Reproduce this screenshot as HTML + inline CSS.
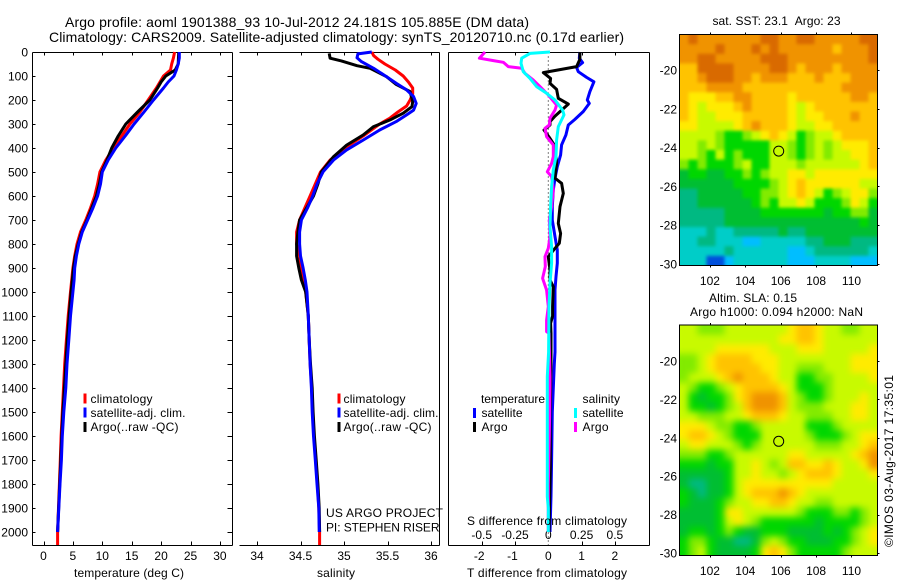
<!DOCTYPE html>
<html lang="en">
<head>
<meta charset="utf-8">
<title>Argo profile 1901388_93</title>
<style>
html,body{margin:0;padding:0;background:#fff;}
svg{display:block;}
text{font-family:"Liberation Sans",sans-serif;font-size:12px;fill:#000;}
</style>
</head>
<body>
<svg id="chart" xmlns="http://www.w3.org/2000/svg" width="900" height="580" viewBox="0 0 900 580">
  <defs>
    <filter id="soft-sst" x="-5%" y="-5%" width="110%" height="110%" color-interpolation-filters="sRGB">
      <feGaussianBlur stdDeviation="1.5"/>
      <feComponentTransfer><feFuncA type="linear" slope="6"/></feComponentTransfer>
    </filter>
    <filter id="soft-sla" x="-5%" y="-5%" width="110%" height="110%" color-interpolation-filters="sRGB">
      <feGaussianBlur stdDeviation="3.5"/>
      <feComponentTransfer><feFuncA type="linear" slope="6"/></feComponentTransfer>
    </filter>
    <clipPath id="clip-sst"><rect x="679.5" y="34.5" width="198" height="231"/></clipPath>
    <clipPath id="clip-sla"><rect x="679.5" y="325" width="198" height="230.5"/></clipPath>
  </defs>
  <rect x="0" y="0" width="900" height="580" fill="#fff"/>
  <g id="marks"></g>
  <text x="65" y="27" style="font-size:14px" textLength="464">Argo profile: aoml 1901388_93 10-Jul-2012 24.181S 105.885E (DM data)</text>
  <text x="49" y="42" style="font-size:14px" textLength="575">Climatology: CARS2009. Satellite-adjusted climatology: synTS_20120710.nc (0.17d earlier)</text>

  <text x="74" y="577" textLength="110">temperature (deg C)</text>
  <text x="317" y="577" textLength="38">salinity</text>
  <text x="467" y="577" textLength="160">T difference from climatology</text>
  <text x="467" y="525" textLength="160">S difference from climatology</text>

  <text x="90.5" y="403" textLength="62">climatology</text>
  <text x="90.5" y="417" textLength="95">satellite-adj. clim.</text>
  <text x="90.5" y="431" textLength="88">Argo(..raw -QC)</text>

  <text x="343.5" y="403" textLength="62">climatology</text>
  <text x="343.5" y="417" textLength="95">satellite-adj. clim.</text>
  <text x="343.5" y="431" textLength="88">Argo(..raw -QC)</text>

  <text x="326" y="517" textLength="117">US ARGO PROJECT</text>
  <text x="326" y="531.5" textLength="113.5">PI: STEPHEN RISER</text>

  <text x="481" y="403" textLength="64">temperature</text>
  <text x="481.5" y="417" textLength="41">satellite</text>
  <text x="481.5" y="431" textLength="26">Argo</text>
  <text x="582.5" y="403" textLength="37.500">salinity</text>
  <text x="582.5" y="417" textLength="41">satellite</text>
  <text x="582.5" y="431" textLength="26">Argo</text>

  <text x="712.500" y="25" textLength="128">sat. SST: 23.1&#160;&#160;Argo: 23</text>
  <text x="709" y="302" textLength="88">Altim. SLA: 0.15</text>
  <text x="690" y="316" textLength="173">Argo h1000: 0.094 h2000: NaN</text>
  <text transform="translate(893,547) rotate(-90)" x="0" y="0" textLength="172">©IMOS 03-Aug-2017 17:35:01</text>
</svg>
<script>
// ---- Temperature profile data (depth in dbar, value in deg C)
const tempClimDepth = [0,25,50,75,100,150,200,250,300,350,400,450,500,550,600,650,700,750,800,850,900,950,1000,1100,1200,1300,1400,1500,1600,1700,1800,1900,2000,2054];
const tempClimValue = [22.3,22.1,21.8,21.6,20.4,19.2,17.8,16.4,14.7,13.3,11.9,10.6,9.6,9.2,8.7,8.0,7.2,6.3,5.7,5.3,5.0,4.8,4.6,4.2,3.9,3.6,3.4,3.2,3.0,2.85,2.7,2.55,2.4,2.4];
const tempArgoDepth = [0,50,75,100,125,150,200,250,300,350,400,450,500,550,600,650,700,750,800,850,900,950,1000,1100,1200,1300,1400,1500,1600,1700,1800,2000];
const tempArgoValue = [23.0,22.9,22.4,20.8,20.0,19.4,18.1,16.0,14.0,12.7,11.6,10.8,9.9,9.5,9.0,8.2,7.4,6.5,5.9,5.4,5.1,4.9,4.7,4.35,4.05,3.8,3.55,3.3,3.1,2.95,2.75,2.4];
const tempSatDepth = [0,25,50,75,100,125,150,200,250,300,350,400,450,500,550,600,650,700,750,800,850,900,950,1000,1100,1200,1300,1400,1500,1600,1700,1800,1900,2000];
const tempSatValue = [23.1,23.1,22.9,22.6,22.2,21.2,20.4,18.7,17.1,15.4,13.9,12.3,11.0,10.0,9.7,9.2,8.4,7.5,6.6,6.0,5.6,5.3,5.2,5.0,4.6,4.3,4.0,3.8,3.45,3.2,3.05,2.8,2.6,2.4];

// ---- Salinity profile data
const salClimDepth = [0,15,30,50,75,100,125,150,175,200,225,250,275,300,350,400,450,500,550,600,650,700,750,800,850,900,950,1000,1100,1200,1300,1400,1500,1600,1700,1800,1900,2000,2054];
const salClimValue = [35.32,35.34,35.39,35.47,35.59,35.68,35.74,35.79,35.79,35.76,35.72,35.62,35.53,35.41,35.22,35.01,34.84,34.73,34.67,34.61,34.55,34.49,34.455,34.455,34.49,34.51,34.54,34.56,34.59,34.6,34.61,34.63,34.64,34.655,34.675,34.695,34.71,34.72,34.72];
const salArgoDepth = [6,26,37,57,68,103,135,165,207,228,255,283,311,346,388,436,499,550,600,650,700,750,800,850,900,950,1000,1100,1200,1300,1400,1500,1600,1700,1800,1900,2000];
const salArgoValue = [34.83,34.84,34.97,35.15,35.3,35.49,35.6,35.76,35.79,35.78,35.68,35.53,35.34,35.22,35.03,34.88,34.74,34.7,34.65,34.57,34.49,34.47,34.455,34.455,34.48,34.51,34.56,34.59,34.6,34.615,34.635,34.645,34.66,34.68,34.7,34.715,34.72];
const salSatDepth = [0,8,24,40,68,103,130,158,186,214,242,262,290,325,367,408,450,499,550,600,650,700,750,800,850,900,950,1000,1100,1200,1300,1400,1500,1600,1700,1800,1900,2000];
const salSatValue = [35.32,35.16,35.15,35.2,35.34,35.49,35.6,35.72,35.8,35.83,35.8,35.72,35.6,35.41,35.22,35.03,34.88,34.76,34.69,34.64,34.58,34.51,34.49,34.49,34.5,34.53,34.555,34.575,34.59,34.6,34.61,34.625,34.635,34.65,34.67,34.69,34.71,34.715];

// ---- Difference panel data
const diffTSatDepth = [0,26,44,64,82,106,124,165,200,214,248,281,304,346,387,429,478,526,575,644,700,769,825,880,936,991,1061,1250,1300,1400,1500,1700,1850,2000];
const diffTSatValue = [.95,.93,1.03,.85,.90,1.15,1.37,1.25,1.17,1.23,1.05,.80,.60,.53,.40,.37,.27,.20,.15,.12,.12,.20,.27,.27,.23,.20,.20,.2,.18,.15,.12,.1,.08,.05];
const diffTArgoDepth = [0,30,61,86,110,131,156,193,217,267,290,304,325,360,392,464,526,547,589,644,714,756,797,818,853,908,950,978,1061,1100,1130,1172,1310,1420,1520,1620,1730,2000];
const diffTArgoValue = [.95,.95,.85,-.15,.07,.05,.25,.3,.6,.2,.05,.05,-.13,.05,.2,.25,.2,.4,.45,.35,.3,.37,.33,.2,0,.05,.05,.15,.13,.13,.07,.08,.08,.07,.05,.06,.06,.02];
const diffSSatDepth = [0,6,26,47,82,110,144,172,200,242,262,311,367,436,492,561,644,728,811,880,964,1061,1250,1353,1853,1900,2000];
const diffSSatValue = [.0125,-.1375,-.2,-.205,-.1875,-.1375,-.0875,-.0125,.05,.1075,.1175,.075,.0625,.0575,.0375,.025,.0175,.0125,.025,.025,.0125,.005,.0025,-.0075,-.0075,0,0];
const diffSArgoDepth = [0,26,36,43,61,68,89,117,144,179,221,242,276,304,318,353,387,436,464,499,519,575,644,700,769,818,853,894,943,992,1061,1117,1165,1172,1353,1395,1600,1800,2000];
const diffSArgoValue = [-.475,-.5175,-.4125,-.3375,-.3,-.2,-.175,-.1125,-.0625,0,.0625,.05,.0125,.0075,-.025,-.0125,.0375,.0375,.025,-.0075,.025,.0375,.025,.0075,.0125,0,-.025,-.0225,-.0425,-.0125,0,-.0125,-.0125,.005,.0125,.0125,.0075,0,0];

// ---- Tick labels
const depthTicks = [0,100,200,300,400,500,600,700,800,900,1000,1100,1200,1300,1400,1500,1600,1700,1800,1900,2000];
const tempTicks = [0,5,10,15,20,25,30];
const salTicks = [34,34.5,35,35.5,36];
const diffTTicks = [-2,-1,0,1,2];
const diffTTopTicks = [-2,-1,1,2];
const diffSTicks = [-0.5,-0.25,0,0.25,0.5];
const lonTicks = [102,104,106,108,110];
const latTicks = [20,22,24,26,28,30];

// ---- Float position
const floatLon = 105.885;
const floatLat = 24.181;

// ---- Map colour levels (0 = deep blue ... 11 = dark orange)
const sstLevels = [
[10,11,10,10,10,10,10,10,10,11,11,10,10,11,11,10,10,10,10,10,11,11],
[10,10,10,10,11,10,10,10,11,10,11,10,10,10,10,10,10,9,10,10,10,11],
[10,10,11,11,10,10,10,10,10,11,11,11,10,10,10,10,10,10,10,10,10,11],
[9,9,11,11,11,11,10,10,10,10,11,11,10,9,10,10,10,9,10,10,10,10],
[9,9,10,11,11,11,10,10,9,10,10,10,9,9,9,10,9,9,9,10,10,10],
[9,9,9,10,10,10,10,9,9,9,9,9,9,9,9,9,9,9,10,10,10,10],
[9,8,8,8,9,9,10,10,9,9,9,9,8,9,9,9,9,9,9,10,10,9],
[9,8,7,8,8,8,9,10,9,9,9,9,8,7,8,9,9,9,9,9,9,9],
[9,8,7,7,8,8,8,9,9,9,9,9,8,7,8,8,9,9,9,10,9,9],
[8,8,7,7,7,7,8,9,10,9,9,9,8,7,7,8,8,9,9,9,9,9],
[7,7,7,7,6,5,5,6,7,8,9,8,7,5,6,7,7,8,9,9,9,9],
[7,7,6,7,6,5,5,5,5,5,7,7,6,5,6,7,6,7,8,8,8,9],
[7,7,6,5,7,5,6,5,5,5,7,7,6,5,6,7,6,7,7,8,8,9],
[6,5,6,5,5,5,6,7,5,5,7,7,7,6,7,7,7,7,7,7,8,9],
[4,5,5,4,4,5,5,6,5,6,7,7,8,8,7,8,8,8,8,8,8,8],
[4,4,4,4,4,4,5,5,5,5,6,7,8,9,8,8,8,8,8,8,7,7],
[3,3,4,4,4,4,4,5,5,6,6,7,8,9,8,7,5,6,7,8,8,6],
[3,3,4,4,4,4,4,4,5,6,5,7,7,8,7,5,5,5,6,8,7,5],
[3,3,3,3,3,4,4,4,4,5,5,5,5,5,5,5,4,5,5,6,6,4],
[3,3,3,3,3,4,4,4,4,4,4,4,4,4,4,4,4,4,4,4,5,4],
[2,2,2,3,2,2,3,3,3,3,3,4,3,3,4,4,4,4,4,4,4,4],
[2,2,3,3,2,2,2,1,1,2,2,2,2,2,3,3,4,4,4,3,3,3],
[2,2,2,2,2,3,2,2,2,2,2,2,1,1,2,3,3,3,3,3,3,2],
[2,2,2,0,0,1,2,2,2,2,2,2,1,1,1,2,2,2,2,1,1,1]
];
const slaLevels = [
[7,7,6,6,6,7,7,7,7,7,7,7,8,9,9,8,7,7,6,6,7,7],
[7,7,7,7,7,7,7,7,7,7,7,8,8,9,9,8,7,7,7,7,7,7],
[7,7,7,7,8,8,8,8,8,8,7,7,7,8,8,8,7,7,7,7,7,8],
[6,6,7,8,9,9,9,9,8,8,8,7,7,7,7,7,7,7,7,8,8,8],
[6,6,7,8,9,9,9,9,9,8,8,7,7,6,6,6,7,7,7,8,8,8],
[6,7,7,7,8,9,10,9,9,9,8,7,7,5,5,6,6,7,7,7,7,8],
[7,6,5,5,6,7,8,9,9,9,9,8,7,5,5,5,6,7,7,7,7,7],
[7,5,4,5,5,6,8,9,10,10,10,9,7,6,5,5,6,7,7,7,8,7],
[7,5,5,4,5,6,7,9,10,10,10,9,7,6,6,6,7,7,7,8,8,7],
[7,7,6,6,6,7,7,8,9,9,9,8,7,7,6,6,6,7,7,8,8,7],
[8,8,8,7,6,6,5,5,6,7,7,7,7,7,5,5,5,6,7,7,7,7],
[8,9,9,8,7,6,5,5,5,7,7,7,7,7,6,5,5,5,6,7,8,8],
[7,8,8,7,7,7,6,5,6,7,7,7,7,7,7,6,6,6,7,7,8,9],
[6,6,6,5,5,6,7,7,7,7,7,7,8,8,7,7,7,7,7,8,9,10],
[5,5,5,4,5,5,7,7,8,7,6,7,9,9,8,8,9,8,7,7,8,10],
[4,4,4,4,4,5,7,7,8,7,7,6,7,8,9,9,9,8,7,7,7,8],
[4,3,3,4,4,5,7,8,8,8,8,8,8,8,8,8,8,7,7,7,7,7],
[5,4,3,4,4,5,7,8,9,9,9,10,9,8,7,7,7,7,7,7,7,7],
[5,4,4,4,5,6,7,7,8,8,9,9,8,7,7,6,6,7,7,7,7,7],
[4,4,4,4,5,8,8,7,7,7,7,7,7,6,5,5,5,6,6,5,6,7],
[4,4,4,4,5,7,8,7,6,5,5,5,5,5,5,4,5,5,5,5,6,7],
[4,5,5,4,5,6,5,4,4,5,5,5,4,4,4,4,5,4,5,6,7,8],
[5,6,6,5,4,4,3,3,4,6,7,6,5,5,4,4,4,5,5,6,7,8],
[5,6,7,5,4,4,4,4,5,8,9,8,6,5,5,5,5,5,6,7,7,7]
];

// ---- Axis functions
const yDepth = d => 52 + d * 0.24;
const xTemp = t => 43.5 + t * 5.88;
const xSal = s => 257 + (s - 34) * 87;
const xDiffT = t => 548.3 + t * 33.3;
const xDiffS = s => 548.3 + s * 133.2;
const map1 = {left:679.5,right:877.5,top:34.5,bottom:265.5,lonMin:100.28,lonMax:111.47,latMin:18.16,latMax:30.09};
const map2 = {left:679.5,right:877.5,top:325,bottom:555.5,lonMin:100.28,lonMax:111.47,latMin:18.12,latMax:30.13};
const mapX = (m,lon) => m.left + (lon - m.lonMin) / (m.lonMax - m.lonMin) * (m.right - m.left);
const mapY = (m,lat) => m.top + (lat - m.latMin) / (m.latMax - m.latMin) * (m.bottom - m.top);
const levelColours = ['#0050dc','#00beff','#00cdc8','#00b982','#00be32','#00d700','#82eb00','#c8fa00','#ffeb00','#ffc300','#f09300','#d96a00'];

const SVGNS = 'http://www.w3.org/2000/svg';
const root = document.getElementById('marks');

function makeLine(x1,y1,x2,y2,name,parent){
  const el = document.createElementNS(SVGNS,'line');
  el.setAttribute('x1',x1);
  el.setAttribute('y1',y1);
  el.setAttribute('x2',x2);
  el.setAttribute('y2',y2);
  el.setAttribute('stroke','#000');
  el.setAttribute('stroke-width','1');
  el.setAttribute('shape-rendering','crispEdges');
  
  
  (parent || root).appendChild(el);
  return el;
}
function makeText(x,y,str,anchor,name){
  const el = document.createElementNS(SVGNS,'text');
  el.setAttribute('x',x);
  el.setAttribute('y',y);
  el.setAttribute('text-anchor',anchor);
  el.textContent = str;
  
  
  root.appendChild(el);
  return el;
}
function makeBar(x,y,colour,name){
  const el = document.createElementNS(SVGNS,'rect');
  el.setAttribute('x',x);
  el.setAttribute('y',y);
  el.setAttribute('width',3);
  el.setAttribute('height',10);
  el.setAttribute('fill',colour);
  
  
  root.appendChild(el);
}
function drawSeries(depths,values,xFn,colour,name,width){
  const el = document.createElementNS(SVGNS,'polyline');
  el.setAttribute('points',depths.map((d,i)=>xFn(values[i]).toFixed(1)+','+yDepth(d).toFixed(1)).join(' '));
  el.setAttribute('fill','none');
  el.setAttribute('stroke',colour);
  el.setAttribute('stroke-width',width || 3);
  el.setAttribute('stroke-linejoin','round');
  
  
  root.appendChild(el);
}

// ---- Profile panel frames
const P1 = {l:32.5,r:232.5}, P2 = {l:239.5,r:439.5}, P3 = {l:448.5,r:649.5};
const pTop = 52.5, pBottom = 545.5;

// panel 1
makeLine(P1.l,pTop,P1.r,pTop,'temperature-panel-top-axis');
makeLine(P1.l,pBottom,P1.r,pBottom,'temperature-panel-bottom-axis');
makeLine(P1.l,pTop,P1.l,pBottom,'depth-axis-line');
makeLine(P1.r,pTop,P1.r,pBottom,'temperature-panel-right-axis');
// panel 2 (no left edge)
makeLine(P2.l,pTop,P2.r,pTop,'salinity-panel-top-axis');
makeLine(P2.l,pBottom,P2.r,pBottom,'salinity-panel-bottom-axis');
makeLine(P2.r,pTop,P2.r,pBottom,'salinity-panel-right-axis');
// panel 3
makeLine(P3.l,pTop,P3.r,pTop,'difference-panel-top-axis');
makeLine(P3.l,pBottom,P3.r,pBottom,'difference-panel-bottom-axis');
makeLine(P3.l,pTop,P3.l,pBottom,'difference-panel-left-axis');
makeLine(P3.r,pTop,P3.r,pBottom,'difference-panel-right-axis');

// depth ticks and labels
depthTicks.forEach(d=>{
  const y = Math.round(yDepth(d)) + 0.5;
  makeLine(P1.l,y,P1.l+3,y,'depth-tick-left');
  makeLine(P1.r-5,y,P1.r,y,'depth-tick-right');
  makeText(28,yDepth(d)+4.5,String(d),'end','depth-tick-label');
});
// temperature ticks
tempTicks.forEach(t=>{
  const x = Math.round(xTemp(t)) + 0.5;
  makeLine(x,pTop,x,pTop+3,'temperature-tick-top');
  makeLine(x,pBottom-4,x,pBottom,'temperature-tick-bottom');
  makeText(xTemp(t),560,String(t),'middle','temperature-tick-label');
});
// salinity ticks
salTicks.forEach(s=>{
  const x = Math.round(xSal(s)) + 0.5;
  makeLine(x,pTop,x,pTop+3,'salinity-tick-top');
  makeLine(x,pBottom-4,x,pBottom,'salinity-tick-bottom');
  makeText(xSal(s),560,String(s),'middle','salinity-tick-label');
});
// difference ticks
diffTTopTicks.forEach(t=>{
  const x = Math.round(xDiffT(t)) + 0.5;
  makeLine(x,pTop,x,pTop+3,'t-difference-tick-top');
  makeLine(x,pBottom-4,x,pBottom,'t-difference-tick-bottom');
});
diffTTicks.forEach(t=>{
  makeText(xDiffT(t)-(t<0?2.5:0),560,String(t),'middle','t-difference-tick-label');
});
diffSTicks.forEach(s=>{
  makeText(xDiffS(s),539,String(s),'middle','s-difference-tick-label');
});

// zero reference line
const zeroLine = makeLine(xDiffT(0),pTop,xDiffT(0),pBottom,'zero-difference-line');
zeroLine.setAttribute('stroke-dasharray','1 3');
zeroLine.setAttribute('shape-rendering','auto');

// series
drawSeries(tempClimDepth,tempClimValue,xTemp,'#ff0000','temperature-climatology-line');
drawSeries(tempArgoDepth,tempArgoValue,xTemp,'#000000','temperature-argo-line');
drawSeries(tempSatDepth,tempSatValue,xTemp,'#0000ff','temperature-satellite-line');

drawSeries(salClimDepth,salClimValue,xSal,'#ff0000','salinity-climatology-line');
drawSeries(salArgoDepth,salArgoValue,xSal,'#000000','salinity-argo-line');
drawSeries(salSatDepth,salSatValue,xSal,'#0000ff','salinity-satellite-line');

drawSeries(diffTSatDepth,diffTSatValue,xDiffT,'#0000ff','t-difference-satellite-line');
drawSeries(diffTArgoDepth,diffTArgoValue,xDiffT,'#000000','t-difference-argo-line');
drawSeries(diffSArgoDepth,diffSArgoValue,xDiffS,'#ff00ff','s-difference-argo-line');
drawSeries(diffSSatDepth,diffSSatValue,xDiffS,'#00ffff','s-difference-satellite-line');

// legend swatches
makeBar(83.5,393.5,'#ff0000','temperature-legend-swatch-climatology');
makeBar(83.5,407.5,'#0000ff','temperature-legend-swatch-satellite');
makeBar(83.5,422,'#000000','temperature-legend-swatch-argo');
makeBar(337.5,393.5,'#ff0000','salinity-legend-swatch-climatology');
makeBar(337.5,407.5,'#0000ff','salinity-legend-swatch-satellite');
makeBar(337.5,422,'#000000','salinity-legend-swatch-argo');
makeBar(473,408,'#0000ff','diff-legend-swatch-t-satellite');
makeBar(473,422,'#000000','diff-legend-swatch-t-argo');
makeBar(574,408,'#00ffff','diff-legend-swatch-s-satellite');
makeBar(574,422,'#ff00ff','diff-legend-swatch-s-argo');

// ---- Maps
function drawMap(m,levels,prefix,filterId,clipId){
  const rows = levels.length;
  const cols = levels[0].length;
  const dLon = (m.lonMax - m.lonMin) / cols;
  const dLat = (m.latMax - m.latMin) / rows;
  const clipGroup = document.createElementNS(SVGNS,'g');
  clipGroup.setAttribute('clip-path','url(#'+clipId+')');
  
  
  root.appendChild(clipGroup);
  const softGroup = document.createElementNS(SVGNS,'g');
  softGroup.setAttribute('filter','url(#'+filterId+')');
  
  
  clipGroup.appendChild(softGroup);
  levels.forEach((row,r)=>{
    row.forEach((lev,c)=>{
      const x0 = mapX(m,m.lonMin + c*dLon);
      const x1 = mapX(m,m.lonMin + (c+1)*dLon);
      const y0 = mapY(m,m.latMin + r*dLat);
      const y1 = mapY(m,m.latMin + (r+1)*dLat);
      const cell = document.createElementNS(SVGNS,'rect');
      cell.setAttribute('x',x0.toFixed(2));
      cell.setAttribute('y',y0.toFixed(2));
      cell.setAttribute('width',(x1-x0+0.4).toFixed(2));
      cell.setAttribute('height',(y1-y0+0.4).toFixed(2));
      cell.setAttribute('fill',levelColours[lev]);
      
      
      softGroup.appendChild(cell);
    });
  });
  const frame = document.createElementNS(SVGNS,'rect');
  frame.setAttribute('x',m.left);
  frame.setAttribute('y',m.top);
  frame.setAttribute('width',m.right-m.left);
  frame.setAttribute('height',m.bottom-m.top);
  frame.setAttribute('fill','none');
  frame.setAttribute('stroke','#000');
  frame.setAttribute('stroke-width','1');
  frame.setAttribute('shape-rendering','crispEdges');
  
  
  root.appendChild(frame);
  lonTicks.forEach(lon=>{
    const x = Math.round(mapX(m,lon)) + 0.5;
    makeLine(x,m.top-2,x,m.top,prefix + '-lon-tick-top');
    makeLine(x,m.bottom,x,m.bottom+2,prefix + '-lon-tick-bottom');
    makeText(mapX(m,lon),m.bottom+19.5,String(lon),'middle',prefix + '-lon-label');
  });
  latTicks.forEach(lat=>{
    const y = Math.round(mapY(m,lat)) + 0.5;
    makeLine(m.right,y,m.right+2,y,prefix + '-lat-tick-right');
    makeText(m.left-2.5,mapY(m,lat)+4.5,'-'+lat,'end',prefix + '-lat-label');
  });
  const marker = document.createElementNS(SVGNS,'circle');
  marker.setAttribute('cx',mapX(m,floatLon).toFixed(1));
  marker.setAttribute('cy',mapY(m,floatLat).toFixed(1));
  marker.setAttribute('r','5');
  marker.setAttribute('fill','none');
  marker.setAttribute('stroke','#000');
  marker.setAttribute('stroke-width','1');
  
  
  root.appendChild(marker);
}
drawMap(map1,sstLevels,'sst-map','soft-sst','clip-sst');
drawMap(map2,slaLevels,'sla-map','soft-sla','clip-sla');
</script>
</body>
</html>
